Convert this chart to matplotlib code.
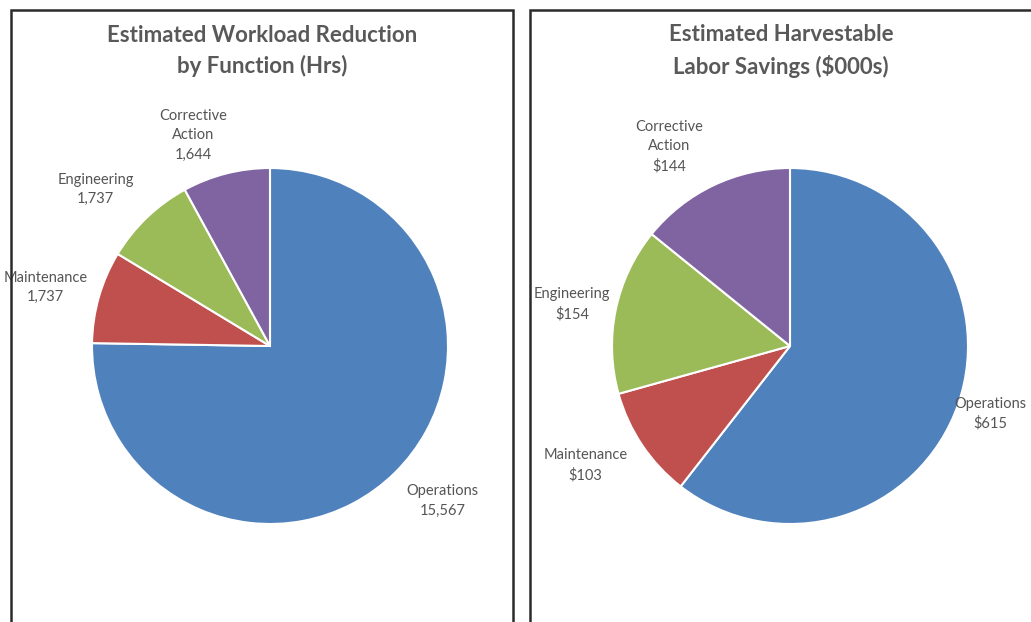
import matplotlib
matplotlib.use('Agg')
import matplotlib.pyplot as plt
from matplotlib.patches import Rectangle

# data
functions = ["Operations", "Maintenance", "Engineering", "Corrective\nAction"]
workload_hrs = [15567, 1737, 1737, 1644]
savings_k = [615, 103, 154, 144]
workload_text = ["15,567", "1,737", "1,737", "1,644"]
savings_text = ["$615", "$103", "$154", "$144"]

colors = ["#4F81BD", "#C0504D", "#9BBB59", "#8064A2"]
plt.rcParams['font.family'] = ['Lato', 'DejaVu Sans']

# label centres in pie radii (layout only, like Excel's best-fit placement)
left_label_pos = [(0.97, -0.87), (-1.26, 0.33), (-0.98, 0.88), (-0.43, 1.185)]
right_label_pos = [(1.125, -0.38), (-1.15, -0.67), (-1.225, 0.235), (-0.68, 1.12)]

W, H = 1031, 622
fig = plt.figure(figsize=(W / 100, H / 100), dpi=100)
fig.patch.set_facecolor("white")

# panel frames (bottom runs off the picture)
for x0, x1 in [(11, 513), (530, 1040)]:
    fig.patches.append(Rectangle((x0 / W, -0.05), (x1 - x0) / W, (H - 9.5) / H + 0.05,
                                 transform=fig.transFigure, fill=False,
                                 edgecolor="#2b2b2b", linewidth=1.8))


def draw_pie(cx, cy, r, values, texts, title, title_x, label_pos):
    half = 260
    ax = fig.add_axes([(cx - half) / W, (H - cy - half) / H, 2 * half / W, 2 * half / H])
    lim = half / r
    labels = [f"{n}\n{t}" for n, t in zip(functions, texts)]
    wedges, txts = ax.pie(values, colors=colors, startangle=90, counterclock=False,
                          labels=labels, labeldistance=1.3, radius=1,
                          wedgeprops=dict(edgecolor="white", linewidth=1.5),
                          textprops=dict(fontsize=10.5, color="#555555"))
    for t, pos in zip(txts, label_pos):
        t.set_position(pos)
        t.set_ha("center")
        t.set_va("center")
        t.set_multialignment("center")
        t.set_linespacing(1.5)
    ax.set_xlim(-lim, lim)
    ax.set_ylim(-lim, lim)
    ax.set_aspect("equal")
    ax.axis("off")
    fig.text(title_x / W, 1 - 51 / H, title, ha="center", va="center",
             fontsize=16, fontweight="bold", color="#595959", linespacing=1.5)


draw_pie(270, 346, 178, workload_hrs, workload_text,
         "Estimated Workload Reduction\nby Function (Hrs)", 262, left_label_pos)
draw_pie(790, 346, 178, savings_k, savings_text,
         "Estimated Harvestable\nLabor Savings ($000s)", 781, right_label_pos)

fig.savefig("out.png", dpi=100)
